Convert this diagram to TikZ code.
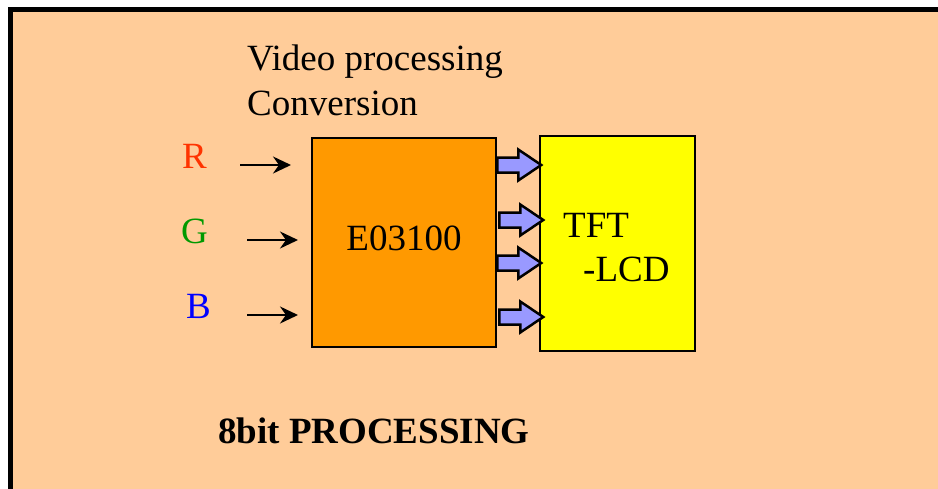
\documentclass[tikz,border=0pt]{standalone}
\usepackage{fontspec}
\setmainfont{Liberation Serif}
\usetikzlibrary{arrows.meta,positioning}
\definecolor{peach}{HTML}{FFCC99}
\definecolor{chipfill}{HTML}{FF9900}
\definecolor{lcdfill}{HTML}{FFFF00}
\definecolor{busfill}{HTML}{9999FF}
\definecolor{redlbl}{HTML}{FF3300}
\definecolor{greenlbl}{HTML}{009900}
\definecolor{bluelbl}{HTML}{0000FF}
\tikzset{
  txt/.style={font=\fontsize{37}{44}\selectfont, inner sep=0pt, anchor=base west},
  chip/.style={draw=black, line width=2.5pt, fill=chipfill, minimum width=184pt, minimum height=209pt, inner sep=0pt},
  lcd/.style={draw=black, line width=2.5pt, fill=lcdfill, minimum width=155pt, minimum height=215pt, inner sep=0pt},
  inarrow/.style={-{Stealth[length=18pt,width=17pt,inset=6pt]}, line width=2.5pt},
  bus/.style={draw=black, line width=2.5pt, fill=busfill, line join=miter}
}

\begin{document}
\begin{tikzpicture}[x=1pt,y=-1pt]
  \useasboundingbox (0,0) rectangle (938,488);
  \fill[white] (0,0) rectangle (938,488);
  \fill[peach] (10.5,9.5) rectangle (950,500);
  \draw[line width=5pt] (10.5,500) -- (10.5,9.5) -- (950,9.5);
  % heading
  \node[txt] (head1) at (247,70) {Video processing};
  \node[txt] (head2) at (247,115) {Conversion};
  % blocks
  \node[chip] (chip) at (404,242.5) {};
  \node[txt, anchor=base] (chiplbl) at (404,250) {E03100};
  \node[lcd] (lcd) at (617.5,243.5) {};
  \node[txt] (lcdlbl1) at (563,237) {TFT};
  \node[txt] (lcdlbl2) at (583,281) {-LCD};
  % inputs
  \node[txt, redlbl] (rlbl) at (182,168) {R};
  \node[txt, greenlbl] (glbl) at (181,243) {G};
  \node[txt, bluelbl] (blbl) at (186,318) {B};
  \coordinate (rin) at (240,165);  \coordinate (rout) at (291,165);
  \coordinate (gin) at (247,240);  \coordinate (gout) at (298,240);
  \coordinate (bin) at (247,315);  \coordinate (bout) at (298,315);
  \draw[inarrow] (rin) -- (rout);
  \draw[inarrow] (gin) -- (gout);
  \draw[inarrow] (bin) -- (bout);
  % bus to panel
  \foreach \ys/\dx in {165/0, 220/2, 263/0, 317/2}{
    \draw[bus] ([xshift=\dx pt]chip.east |- 0,\ys) ++(0,-7.5) -- ++(21,0) -- ++(0,-8) -- ++(23,15.5) -- ++(-23,15.5) -- ++(0,-8) -- ++(-21,0) -- cycle;
  }
  \node[txt, font=\fontsize{37}{44}\selectfont\bfseries] (foot) at (218,443) {8bit PROCESSING};
\end{tikzpicture}
\end{document}
